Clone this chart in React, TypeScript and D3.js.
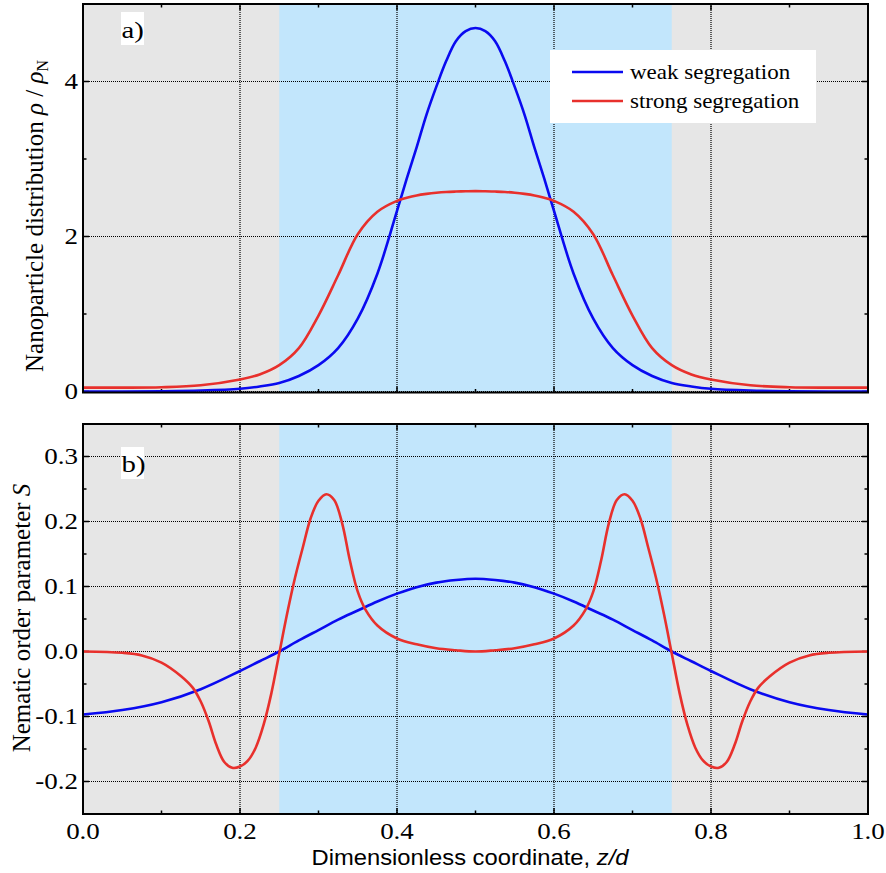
import React from "react";
import * as d3 from "d3";

// ---------- data ----------
const zTop = [0, 0.05, 0.1, 0.15, 0.2, 0.225, 0.25, 0.275, 0.3, 0.325, 0.35, 0.375, 0.4, 0.4125, 0.425, 0.4375, 0.45, 0.4625, 0.475, 0.4875, 0.5,
  0.5125, 0.525, 0.5375, 0.55, 0.5625, 0.575, 0.5875, 0.6, 0.625, 0.65, 0.675, 0.7, 0.725, 0.75, 0.775, 0.8, 0.85, 0.9, 0.95, 1.0];
const rhoWeak = [0.0, 0.0, 0.003, 0.012, 0.035, 0.065, 0.11, 0.2, 0.34, 0.56, 0.94, 1.52, 2.33, 2.75, 3.15, 3.57, 3.93, 4.26, 4.52, 4.65, 4.69,
  4.65, 4.52, 4.26, 3.93, 3.57, 3.15, 2.75, 2.33, 1.52, 0.94, 0.56, 0.34, 0.2, 0.11, 0.065, 0.035, 0.012, 0.003, 0.0, 0.0];
const rhoStrong = [0.05, 0.05, 0.055, 0.08, 0.155, 0.22, 0.34, 0.56, 0.98, 1.5, 2.03, 2.32, 2.46, 2.5, 2.53, 2.55, 2.565, 2.575, 2.58, 2.583, 2.585,
  2.583, 2.58, 2.575, 2.565, 2.55, 2.53, 2.5, 2.46, 2.32, 2.03, 1.5, 0.98, 0.56, 0.34, 0.22, 0.155, 0.08, 0.055, 0.05, 0.05];

const zWeakS = [0, 0.05, 0.1, 0.15, 0.2, 0.225, 0.25, 0.275, 0.3, 0.325, 0.35, 0.375, 0.4, 0.425, 0.45, 0.475, 0.5,
  0.525, 0.55, 0.575, 0.6, 0.625, 0.65, 0.675, 0.7, 0.725, 0.75, 0.775, 0.8, 0.85, 0.9, 0.95, 1.0];
const sWeak = [-0.097, -0.09, -0.078, -0.058, -0.03, -0.015, 0.0, 0.017, 0.033, 0.049, 0.063, 0.077, 0.089, 0.099, 0.106, 0.11, 0.112,
  0.11, 0.106, 0.099, 0.089, 0.077, 0.063, 0.049, 0.033, 0.017, 0.0, -0.015, -0.03, -0.058, -0.078, -0.09, -0.097];

const zStrongS = [0, 0.05, 0.075, 0.1, 0.125, 0.14, 0.15, 0.16, 0.17, 0.18, 0.19, 0.2, 0.21, 0.22, 0.23, 0.24, 0.25,
  0.26, 0.27, 0.28, 0.29, 0.3, 0.31, 0.32, 0.33, 0.34, 0.35, 0.36, 0.375, 0.4, 0.425, 0.45, 0.475, 0.5,
  0.525, 0.55, 0.575, 0.6, 0.625, 0.64, 0.65, 0.66, 0.67, 0.68, 0.69, 0.7, 0.71, 0.72, 0.73, 0.74,
  0.75, 0.76, 0.77, 0.78, 0.79, 0.8, 0.81, 0.82, 0.83, 0.84, 0.85, 0.86, 0.875, 0.9, 0.925, 0.95, 1.0];
const sStrong = [0.0, -0.002, -0.006, -0.017, -0.038, -0.056, -0.077, -0.107, -0.144, -0.17, -0.179, -0.177, -0.168, -0.148, -0.113, -0.064, -0.003,
  0.058, 0.113, 0.16, 0.205, 0.232, 0.242, 0.233, 0.198, 0.14, 0.092, 0.064, 0.04, 0.02, 0.011, 0.005, 0.002, 0.0,
  0.002, 0.005, 0.011, 0.02, 0.04, 0.064, 0.092, 0.14, 0.198, 0.233, 0.242, 0.232, 0.205, 0.16, 0.113, 0.058,
  -0.003, -0.064, -0.113, -0.148, -0.168, -0.177, -0.179, -0.17, -0.144, -0.107, -0.077, -0.056, -0.038, -0.017, -0.006, -0.002, 0.0];

const xTicks = [0, 0.2, 0.4, 0.6, 0.8, 1.0];
const xTickLabels = ["0.0", "0.2", "0.4", "0.6", "0.8", "1.0"];
const xMinor = [0.1, 0.3, 0.5, 0.7, 0.9];
const yTopTicks = [0, 2, 4];
const yTopMinor = [1, 3];
const yBotTicks = [-0.2, -0.1, 0.0, 0.1, 0.2, 0.3];
const yBotLabels = ["-0.2", "-0.1", "0.0", "0.1", "0.2", "0.3"];
const yBotMinor = [-0.15, -0.05, 0.05, 0.15, 0.25];
const regionLeft = 0.25;
const regionRight = 0.75;
const seriesNames = ["weak segregation", "strong segregation"];

// ---------- styling ----------
const BLUE = "#0a0af0";
const RED = "#e8302c";
const GREY = "#e6e6e6";
const LIGHTBLUE = "#c2e6fc";
const SERIF = "Liberation Serif";
const SANS = "Liberation Sans";
const TICK_FS = 22.5;
const SX = 1.2;

const L = 83, R = 868;
const x = d3.scaleLinear().domain([0, 1]).range([L, R]);
const yTop = d3.scaleLinear().domain([0, 5]).range([391.5, 4]);
const yBot = d3.scaleLinear().domain([-0.25, 0.35]).range([814, 424]);

function Panel({ y, ticks, minor, labels, top, bottom, showX }: any) {
  const major = 6, minorLen = 3.5;
  return (
    <g>
      <rect x={L} y={top} width={R - L} height={bottom - top} fill={GREY} />
      <rect x={x(regionLeft)} y={top} width={x(regionRight) - x(regionLeft)} height={bottom - top} fill={LIGHTBLUE} />
      {xTicks.slice(1, -1).map((t) => (
        <line key={"gx" + t} x1={x(t)} x2={x(t)} y1={top} y2={bottom} stroke="#000" strokeWidth={1.2} strokeDasharray="1,1" />
      ))}
      {ticks.map((t: number) => (
        <line key={"gy" + t} x1={L} x2={R} y1={y(t)} y2={y(t)} stroke="#000" strokeWidth={1.2} strokeDasharray="1,1" />
      ))}
      {xTicks.map((t) => (
        <g key={"tx" + t}>
          <line x1={x(t)} x2={x(t)} y1={bottom} y2={bottom - major} stroke="#000" strokeWidth={1.5} />
          <line x1={x(t)} x2={x(t)} y1={top} y2={top + major} stroke="#000" strokeWidth={1.5} />
        </g>
      ))}
      {xMinor.map((t) => (
        <g key={"mx" + t}>
          <line x1={x(t)} x2={x(t)} y1={bottom} y2={bottom - minorLen} stroke="#000" strokeWidth={1.5} />
          <line x1={x(t)} x2={x(t)} y1={top} y2={top + minorLen} stroke="#000" strokeWidth={1.5} />
        </g>
      ))}
      {ticks.map((t: number) => (
        <g key={"ty" + t}>
          <line x1={L} x2={L + major} y1={y(t)} y2={y(t)} stroke="#000" strokeWidth={1.5} />
          <line x1={R} x2={R - major} y1={y(t)} y2={y(t)} stroke="#000" strokeWidth={1.5} />
        </g>
      ))}
      {minor.map((t: number) => (
        <g key={"my" + t}>
          <line x1={L} x2={L + minorLen} y1={y(t)} y2={y(t)} stroke="#000" strokeWidth={1.5} />
          <line x1={R} x2={R - minorLen} y1={y(t)} y2={y(t)} stroke="#000" strokeWidth={1.5} />
        </g>
      ))}
      {ticks.map((t: number, i: number) => (
        <text key={"ly" + t} transform={`translate(${L - 5},${y(t)}) scale(${SX},1)`} dy="0.35em" textAnchor="end"
          style={{ fontFamily: SERIF, fontSize: TICK_FS }}>
          {labels[i]}
        </text>
      ))}
      {showX &&
        xTicks.map((t, i) => (
          <text key={"lx" + t} transform={`translate(${x(t)},${bottom + 25}) scale(${SX},1)`} textAnchor="middle"
            style={{ fontFamily: SERIF, fontSize: TICK_FS }}>
            {xTickLabels[i]}
          </text>
        ))}
    </g>
  );
}

export default function App() {
  const curve = d3.curveCatmullRom.alpha(0.5);
  const weakTop = d3.line<number>().x((_, i) => x(zTop[i])).y((d) => yTop(d)).curve(curve)(rhoWeak) as string;
  const strongTop = d3.line<number>().x((_, i) => x(zTop[i])).y((d) => yTop(d)).curve(curve)(rhoStrong) as string;
  const weakBot = d3.line<number>().x((_, i) => x(zWeakS[i])).y((d) => yBot(d)).curve(curve)(sWeak) as string;
  const strongBot = d3.line<number>().x((_, i) => x(zStrongS[i])).y((d) => yBot(d)).curve(curve)(sStrong) as string;

  const topT = 4, topB = 392.5, botT = 424, botB = 814;

  return (
    <svg width={886} height={873} style={{ position: "absolute", left: 0, top: 0, background: "#fff" }}>
      <defs>
        <clipPath id="cTop">
          <rect x={L} y={topT} width={R - L} height={topB - topT} />
        </clipPath>
        <clipPath id="cBot">
          <rect x={L} y={botT} width={R - L} height={botB - botT} />
        </clipPath>
      </defs>
      <Panel y={yTop} ticks={yTopTicks} minor={yTopMinor} labels={yTopTicks.map(String)} top={topT} bottom={topB} showX={false} />
      <g clipPath="url(#cTop)">
        <path d={weakTop} fill="none" stroke={BLUE} strokeWidth={2.6} />
        <path d={strongTop} fill="none" stroke={RED} strokeWidth={2.6} />
      </g>
      <rect x={L} y={topT} width={R - L} height={topB - topT} fill="none" stroke="#000" strokeWidth={2} />
      <rect x={121} y={12} width={23} height={33} fill="#fff" />
      <text transform={`translate(121.5,38) scale(${SX},1)`} style={{ fontFamily: SERIF, fontSize: 24 }}>a)</text>
      <rect x={550} y={50} width={266} height={73} fill="#fff" />
      <line x1={572} x2={623} y1={72} y2={72} stroke={BLUE} strokeWidth={2.6} />
      <line x1={572} x2={623} y1={101} y2={101} stroke={RED} strokeWidth={2.6} />
      <text transform="translate(630,79) scale(1.07,1)" style={{ fontFamily: SERIF, fontSize: 21.5 }}>{seriesNames[0]}</text>
      <text transform="translate(630,108) scale(1.07,1)" style={{ fontFamily: SERIF, fontSize: 21.5 }}>{seriesNames[1]}</text>
      <text transform={`translate(43,${216}) rotate(-90)`} textAnchor="middle" style={{ fontFamily: SERIF, fontSize: 25 }}>
        Nanoparticle distribution <tspan fontStyle="italic">ρ</tspan> / <tspan fontStyle="italic">ρ</tspan>
        <tspan style={{ fontSize: 16 }} dy={5}>N</tspan>
      </text>

      <Panel y={yBot} ticks={yBotTicks} minor={yBotMinor} labels={yBotLabels} top={botT} bottom={botB} showX={true} />
      <g clipPath="url(#cBot)">
        <path d={weakBot} fill="none" stroke={BLUE} strokeWidth={2.6} />
        <path d={strongBot} fill="none" stroke={RED} strokeWidth={2.6} />
      </g>
      <rect x={L} y={botT} width={R - L} height={botB - botT} fill="none" stroke="#000" strokeWidth={2} />
      <rect x={121} y={447} width={23} height={32} fill="#fff" />
      <text transform={`translate(121.5,472) scale(${SX},1)`} style={{ fontFamily: SERIF, fontSize: 24 }}>b)</text>
      <text transform={`translate(30,${618}) rotate(-90)`} textAnchor="middle" style={{ fontFamily: SERIF, fontSize: 25 }}>
        Nematic order parameter <tspan fontStyle="italic">S</tspan>
      </text>
      <text x={470} y={865} textAnchor="middle" style={{ fontFamily: SANS, fontSize: 22 }} textLength={317} lengthAdjust="spacingAndGlyphs">
        Dimensionless coordinate, <tspan fontStyle="italic">z/d</tspan>
      </text>
    </svg>
  );
}
